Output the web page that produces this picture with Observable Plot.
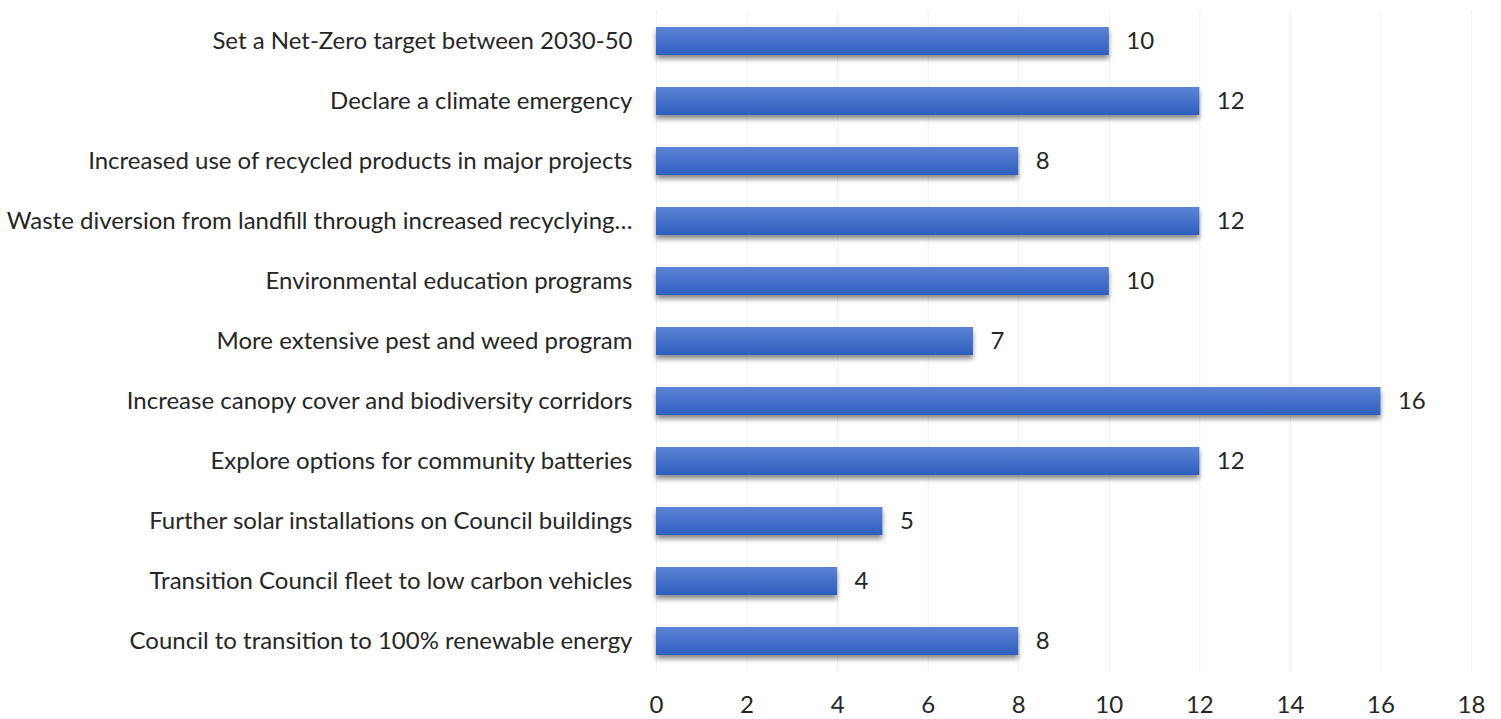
<!DOCTYPE html>
<html><head><meta charset="utf-8">
<script src="https://cdn.jsdelivr.net/npm/d3@7"></script>
<script src="https://cdn.jsdelivr.net/npm/@observablehq/plot@0.6"></script>
<style>
body{margin:0;background:#fff;}
#chart svg{display:block;}
</style>
</head><body><div id="chart"></div>
<script>
const categories = [
  "Set a Net-Zero target between 2030-50",
  "Declare a climate emergency",
  "Increased use of recycled products in major projects",
  "Waste diversion from landfill through increased recyclying…",
  "Environmental education programs",
  "More extensive pest and weed program",
  "Increase canopy cover and biodiversity corridors",
  "Explore options for community batteries",
  "Further solar installations on Council buildings",
  "Transition Council fleet to low carbon vehicles",
  "Council to transition to 100% renewable energy"
];
const values = [10, 12, 8, 12, 10, 7, 16, 12, 5, 4, 8];
const xTicks = [0, 2, 4, 6, 8, 10, 12, 14, 16, 18];

const data = categories.map((c, i) => ({category: c, value: values[i]}));
const font = "Lato, 'Open Sans', sans-serif";

const chart = Plot.plot({
  width: 1501,
  height: 719,
  marginLeft: 656,
  marginRight: 30,
  marginTop: 10,
  marginBottom: 47,
  style: {fontFamily: font, fontSize: "24px", color: "#333", background: "#fff"},
  x: {domain: [0, 18], ticks: xTicks, tickSize: 0, tickPadding: 23, label: null},
  y: {domain: categories, paddingInner: 0.535, paddingOuter: 0.2675, tickSize: 0, tickPadding: 24, label: null},
  marks: [
    Plot.ruleX(xTicks, {stroke: "#f0f0f0", strokeWidth: 1}),
    Plot.barX(data, {x: "value", y: "category", fill: "url(#barGrad)", className: "bars"}),
    Plot.text(data, {x: "value", y: "category", text: d => String(d.value), textAnchor: "start", dx: 17, fontSize: 24, fill: "#262626"})
  ]
});

const svg = d3.select(chart);
const defs = svg.insert("defs", ":first-child");
const g = defs.append("linearGradient").attr("id", "barGrad").attr("x1", 0).attr("y1", 0).attr("x2", 0).attr("y2", 1);
g.append("stop").attr("offset", "0%").attr("stop-color", "#5b84d6");
g.append("stop").attr("offset", "100%").attr("stop-color", "#2e5ebd");
const f = defs.append("filter").attr("id", "barShadow").attr("x", "-5%").attr("y", "-30%").attr("width", "110%").attr("height", "180%");
f.append("feDropShadow").attr("dx", 0).attr("dy", 4).attr("stdDeviation", 2.5).attr("flood-color", "#000").attr("flood-opacity", 0.45);
svg.selectAll("g.bars rect, g[aria-label='bar'] rect").attr("filter", "url(#barShadow)");
svg.selectAll("g[aria-label='y-axis tick label'] text, g[aria-label='x-axis tick label'] text").attr("fill", "#262626");
document.getElementById("chart").appendChild(chart);
</script>
</body></html>
